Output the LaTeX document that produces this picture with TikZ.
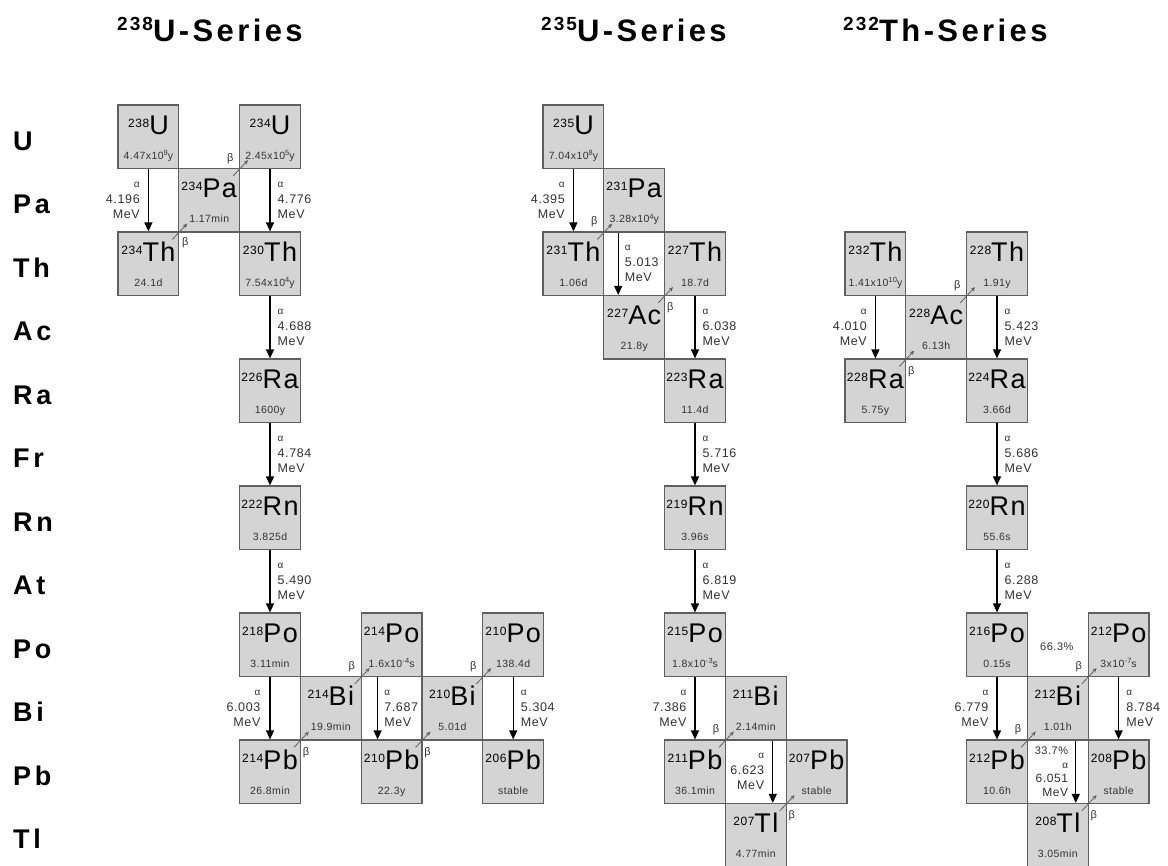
\documentclass[tikz,border=0pt]{standalone}
\usepackage{fontspec}
\setmainfont{Liberation Sans}
\newfontfamily\spfont{Liberation Sans}[LetterSpace=5]
\newfontfamily\hlfont{Liberation Sans}[LetterSpace=4]
\newfontfamily\ttlfont{Liberation Sans}[LetterSpace=11]
\newfontfamily\elfont{Liberation Sans}[LetterSpace=14]
\usetikzlibrary{arrows.meta,calc}
\definecolor{boxfill}{RGB}{212,212,212}
\definecolor{boxline}{RGB}{95,95,95}
\definecolor{txtgrey}{RGB}{50,50,50}
\newcommand{\ms}[1]{\raisebox{7pt}{\fontsize{12}{12}\selectfont #1}}
\newcommand{\ex}[1]{\raisebox{3.5pt}{\fontsize{7.5}{7.5}\selectfont #1}}
% name, base x, column, row, mass, symbol, half-life
\newcommand{\nuc}[7]{%
  \node[nbox] (#1) at ({#2+60.8*#3+30.4},{136.75+63.5*#4}) {};
  \node[symtxt] (#1-s) at ([yshift=-30pt]#1.north) {\ms{#5}{\fontsize{27}{27}\selectfont #6}};
  \node[hltxt] (#1-h) at ([yshift=-55pt]#1.north) {#7};
}
% lower-left box, upper-right box, label name, label shift
\newcommand{\bdecay}[4]{%
  \draw[barr] ([shift={(-7pt,-8pt)}]#1.north east) -- ([shift={(9pt,9pt)}]#2.south west);
  \node[blab] (#3) at ([shift={#4}]#1.north east) {β};
}
\begin{document}
\begin{tikzpicture}[x=1pt,y=-1pt,
  nbox/.style={draw=boxline, fill=boxfill, line width=1.2pt, minimum width=60.8pt, minimum height=63.5pt, inner sep=0pt},
  symtxt/.style={anchor=base, inner sep=0pt, font=\spfont},
  hltxt/.style={anchor=base, inner sep=0pt, text=txtgrey, font=\hlfont\fontsize{10.5}{10.5}\selectfont},
  aarr/.style={line width=1.3pt, -{Triangle[length=9pt,width=8pt]}},
  barr/.style={line width=0.8pt, draw=boxline, -{Stealth[length=4.5pt,width=4pt]}},
  alab/.style={inner sep=0pt, text=txtgrey, font=\spfont\fontsize{12.5}{15}\selectfont},
  blab/.style={inner sep=0pt, text=txtgrey, font=\fontsize{11}{11}\selectfont},
  ttl/.style={anchor=base west, inner sep=0pt, font=\ttlfont\bfseries\fontsize{31}{31}\selectfont},
  ellab/.style={anchor=base west, inner sep=0pt, font=\elfont\bfseries\fontsize{27}{27}\selectfont}
]
\useasboundingbox[fill=white] (0,0) rectangle (1168,866);

% titles
\node[ttl] (t1) at (117,42) {\raisebox{11pt}{\fontsize{19}{19}\selectfont 238}U-Series};
\node[ttl] (t2) at (541,42) {\raisebox{11pt}{\fontsize{19}{19}\selectfont 235}U-Series};
\node[ttl] (t3) at (843,42) {\raisebox{11pt}{\fontsize{19}{19}\selectfont 232}Th-Series};

% element labels
\foreach \el [count=\r from 0] in {U,Pa,Th,Ac,Ra,Fr,Rn,At,Po,Bi,Pb,Tl}
  \node[ellab] (el\r) at (13,{136.75+63.5*\r+13.5}) {\el};

% ---- 238U series ----
\nuc{u238}{118}{0}{0}{238}{U}{4.47x10\ex{9}y}
\nuc{u234}{118}{2}{0}{234}{U}{2.45x10\ex{5}y}
\nuc{pa234}{118}{1}{1}{234}{Pa}{1.17min}
\nuc{th234}{118}{0}{2}{234}{Th}{24.1d}
\nuc{th230}{118}{2}{2}{230}{Th}{7.54x10\ex{4}y}
\nuc{ra226}{118}{2}{4}{226}{Ra}{1600y}
\nuc{rn222}{118}{2}{6}{222}{Rn}{3.825d}
\nuc{po218}{118}{2}{8}{218}{Po}{3.11min}
\nuc{po214}{118}{4}{8}{214}{Po}{1.6x10\ex{-4}s}
\nuc{po210}{118}{6}{8}{210}{Po}{138.4d}
\nuc{bi214}{118}{3}{9}{214}{Bi}{19.9min}
\nuc{bi210}{118}{5}{9}{210}{Bi}{5.01d}
\nuc{pb214}{118}{2}{10}{214}{Pb}{26.8min}
\nuc{pb210}{118}{4}{10}{210}{Pb}{22.3y}
\nuc{pb206}{118}{6}{10}{206}{Pb}{stable}

% ---- 235U series ----
\nuc{u235}{543}{0}{0}{235}{U}{7.04x10\ex{8}y}
\nuc{pa231}{543}{1}{1}{231}{Pa}{3.28x10\ex{4}y}
\nuc{th231}{543}{0}{2}{231}{Th}{1.06d}
\nuc{th227}{543}{2}{2}{227}{Th}{18.7d}
\nuc{ac227}{543}{1}{3}{227}{Ac}{21.8y}
\nuc{ra223}{543}{2}{4}{223}{Ra}{11.4d}
\nuc{rn219}{543}{2}{6}{219}{Rn}{3.96s}
\nuc{po215}{543}{2}{8}{215}{Po}{1.8x10\ex{-3}s}
\nuc{bi211}{543}{3}{9}{211}{Bi}{2.14min}
\nuc{pb211}{543}{2}{10}{211}{Pb}{36.1min}
\nuc{pb207}{543}{4}{10}{207}{Pb}{stable}
\nuc{tl207}{543}{3}{11}{207}{Tl}{4.77min}

% ---- 232Th series ----
\nuc{th232}{845}{0}{2}{232}{Th}{1.41x10\ex{10}y}
\nuc{th228}{845}{2}{2}{228}{Th}{1.91y}
\nuc{ac228}{845}{1}{3}{228}{Ac}{6.13h}
\nuc{ra228}{845}{0}{4}{228}{Ra}{5.75y}
\nuc{ra224}{845}{2}{4}{224}{Ra}{3.66d}
\nuc{rn220}{845}{2}{6}{220}{Rn}{55.6s}
\nuc{po216}{845}{2}{8}{216}{Po}{0.15s}
\nuc{po212}{845}{4}{8}{212}{Po}{3x10\ex{-7}s}
\nuc{bi212}{845}{3}{9}{212}{Bi}{1.01h}
\nuc{pb212}{845}{2}{10}{212}{Pb}{10.6h}
\nuc{pb208}{845}{4}{10}{208}{Pb}{stable}
\nuc{tl208}{845}{3}{11}{208}{Tl}{3.05min}

% ---- alpha decays ----
\draw[aarr] (u238.south) -- (th234.north) node[midway,alab,left=8pt,align=right] (a1) {{\fontsize{10}{10}\selectfont α}\\[1pt]4.196\\MeV};
\draw[aarr] (u234.south) -- (th230.north) node[midway,alab,right=7pt,align=left] (a2) {{\fontsize{10}{10}\selectfont α}\\[1pt]4.776\\MeV};
\draw[aarr] (th230.south) -- (ra226.north) node[midway,alab,right=7pt,align=left] (a3) {{\fontsize{10}{10}\selectfont α}\\[1pt]4.688\\MeV};
\draw[aarr] (ra226.south) -- (rn222.north) node[midway,alab,right=7pt,align=left] (a4) {{\fontsize{10}{10}\selectfont α}\\[1pt]4.784\\MeV};
\draw[aarr] (rn222.south) -- (po218.north) node[midway,alab,right=7pt,align=left] (a5) {{\fontsize{10}{10}\selectfont α}\\[1pt]5.490\\MeV};
\draw[aarr] (po218.south) -- (pb214.north) node[midway,alab,left=9pt,align=right] (a6) {{\fontsize{10}{10}\selectfont α}\\[1pt]6.003\\MeV};
\draw[aarr] ([xshift=-14pt]po214.south) -- ([xshift=-14pt]pb210.north) node[midway,alab,right=6pt,align=left] (a7) {{\fontsize{10}{10}\selectfont α}\\[1pt]7.687\\MeV};
\draw[aarr] (po210.south) -- (pb206.north) node[midway,alab,right=7pt,align=left] (a8) {{\fontsize{10}{10}\selectfont α}\\[1pt]5.304\\MeV};

\draw[aarr] (u235.south) -- (th231.north) node[midway,alab,left=8pt,align=right] (a9) {{\fontsize{10}{10}\selectfont α}\\[1pt]4.395\\MeV};
\draw[aarr] ([xshift=-16pt]pa231.south) -- ([xshift=-16pt]ac227.north) node[midway,alab,right=6pt,align=left] (a10) {{\fontsize{10}{10}\selectfont α}\\[1pt]5.013\\MeV};
\draw[aarr] (th227.south) -- (ra223.north) node[midway,alab,right=7pt,align=left] (a11) {{\fontsize{10}{10}\selectfont α}\\[1pt]6.038\\MeV};
\draw[aarr] (ra223.south) -- (rn219.north) node[midway,alab,right=7pt,align=left] (a12) {{\fontsize{10}{10}\selectfont α}\\[1pt]5.716\\MeV};
\draw[aarr] (rn219.south) -- (po215.north) node[midway,alab,right=7pt,align=left] (a13) {{\fontsize{10}{10}\selectfont α}\\[1pt]6.819\\MeV};
\draw[aarr] (po215.south) -- (pb211.north) node[midway,alab,left=8pt,align=right] (a14) {{\fontsize{10}{10}\selectfont α}\\[1pt]7.386\\MeV};
\draw[aarr] ([xshift=17pt]bi211.south) -- ([xshift=17pt]tl207.north) node[midway,alab,left=8pt,align=right] (a15) {{\fontsize{10}{10}\selectfont α}\\[1pt]6.623\\MeV};

\draw[aarr] (th232.south) -- (ra228.north) node[midway,alab,left=8pt,align=right] (a16) {{\fontsize{10}{10}\selectfont α}\\[1pt]4.010\\MeV};
\draw[aarr] (th228.south) -- (ra224.north) node[midway,alab,right=7pt,align=left] (a17) {{\fontsize{10}{10}\selectfont α}\\[1pt]5.423\\MeV};
\draw[aarr] (ra224.south) -- (rn220.north) node[midway,alab,right=7pt,align=left] (a18) {{\fontsize{10}{10}\selectfont α}\\[1pt]5.686\\MeV};
\draw[aarr] (rn220.south) -- (po216.north) node[midway,alab,right=7pt,align=left] (a19) {{\fontsize{10}{10}\selectfont α}\\[1pt]6.288\\MeV};
\draw[aarr] (po216.south) -- (pb212.north) node[midway,alab,left=8pt,align=right] (a20) {{\fontsize{10}{10}\selectfont α}\\[1pt]6.779\\MeV};
\draw[aarr] (po212.south) -- (pb208.north) node[midway,alab,right=7pt,align=left] (a21) {{\fontsize{10}{10}\selectfont α}\\[1pt]8.784\\MeV};
\draw[aarr] ([xshift=18pt]bi212.south) -- ([xshift=18pt]tl208.north) node[midway,alab,left=7pt,align=right,font=\spfont\fontsize{12}{14}\selectfont] (a22) {{\fontsize{11}{11}\selectfont 33.7\%}\\{\fontsize{10}{10}\selectfont α}\\6.051\\MeV};
\node[alab,font=\spfont\fontsize{11}{11}\selectfont] (p663) at ($(po216.east)!0.5!(po212.west)+(-1pt,-2pt)$) {66.3\%};

% ---- beta decays ----
\bdecay{th234}{pa234}{b1}{(6pt,-11pt)}
\bdecay{pa234}{u234}{b2}{(-10pt,9.5pt)}
\bdecay{pb214}{bi214}{b3}{(5pt,-13pt)}
\bdecay{bi214}{po214}{b4}{(-10pt,9.5pt)}
\bdecay{pb210}{bi210}{b5}{(5pt,-13pt)}
\bdecay{bi210}{po210}{b6}{(-10pt,9.5pt)}
\bdecay{th231}{pa231}{b7}{(-10pt,9.5pt)}
\bdecay{ac227}{th227}{b8}{(5pt,-13pt)}
\bdecay{pb211}{bi211}{b9}{(-10pt,9.5pt)}
\bdecay{tl207}{pb207}{b10}{(5pt,-13pt)}
\bdecay{ra228}{ac228}{b11}{(5pt,-13pt)}
\bdecay{ac228}{th228}{b12}{(-10pt,9.5pt)}
\bdecay{bi212}{po212}{b13}{(-10pt,9.5pt)}
\bdecay{pb212}{bi212}{b14}{(-10pt,9.5pt)}
\bdecay{tl208}{pb208}{b15}{(5pt,-13pt)}
\end{tikzpicture}
\end{document}
